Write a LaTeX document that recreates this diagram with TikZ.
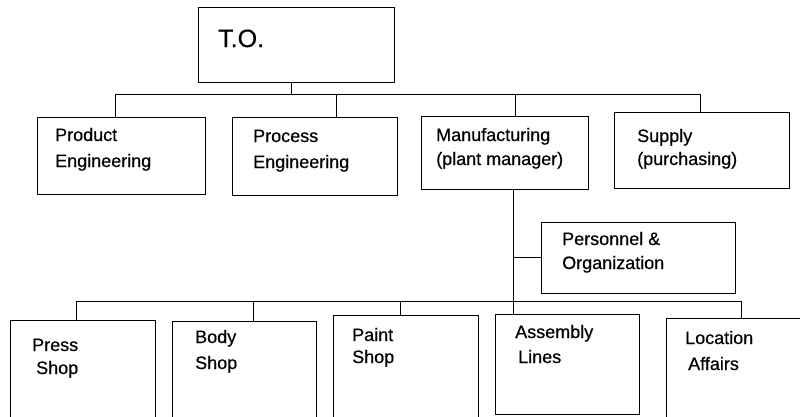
\documentclass[tikz,border=0pt]{standalone}
\usepackage{fontspec}
\setmainfont{Liberation Sans}
\newfontfamily\scanfont[FakeBold=0.5]{Liberation Sans}
\usetikzlibrary{fit}
\begin{document}
\begin{tikzpicture}[x=1pt,y=-1pt,
  boxnode/.style={draw=black,line width=0.9pt,inner sep=0pt,rectangle},
  conn/.style={draw=black,line width=0.9pt},
  lbl/.style={anchor=base west,inner sep=0pt,font=\scanfont\fontsize{18}{20}\selectfont},
  biglbl/.style={anchor=base west,inner sep=0pt,font=\scanfont\fontsize{25}{28}\selectfont}]
\useasboundingbox (0,0) rectangle (800,416);
\clip (0,0) rectangle (800,416);
% box corners
\coordinate (to1) at (198,7);   \coordinate (to2) at (394,82);
\coordinate (pe1) at (37,117);  \coordinate (pe2) at (205,194);
\coordinate (pr1) at (232,117); \coordinate (pr2) at (397,195);
\coordinate (mf1) at (421,116); \coordinate (mf2) at (588,189);
\coordinate (su1) at (614,112); \coordinate (su2) at (789,188);
\coordinate (po1) at (541,222); \coordinate (po2) at (735,293);
\coordinate (ps1) at (10,320);  \coordinate (ps2) at (155,430);
\coordinate (bs1) at (172,321); \coordinate (bs2) at (316,430);
\coordinate (pa1) at (333,315); \coordinate (pa2) at (478,430);
\coordinate (as1) at (495,314); \coordinate (as2) at (639,414);
\coordinate (lo1) at (666,318); \coordinate (lo2) at (815,430);
% boxes
\node[boxnode,fit=(to1)(to2)] (TO) {};
\node[boxnode,fit=(pe1)(pe2)] (PE) {};
\node[boxnode,fit=(pr1)(pr2)] (PR) {};
\node[boxnode,fit=(mf1)(mf2)] (MF) {};
\node[boxnode,fit=(su1)(su2)] (SU) {};
\node[boxnode,fit=(po1)(po2)] (PO) {};
\node[boxnode,fit=(ps1)(ps2)] (PS) {};
\node[boxnode,fit=(bs1)(bs2)] (BS) {};
\node[boxnode,fit=(pa1)(pa2)] (PA) {};
\node[boxnode,fit=(as1)(as2)] (AS) {};
\node[boxnode,fit=(lo1)(lo2)] (LO) {};
% labels
\node[biglbl] (tT) at (218,47) {T.O.};
\node[lbl] (tPE1) at (55,141) {Product};
\node[lbl] (tPE2) at (55,167) {Engineering};
\node[lbl] (tPR1) at (253,142) {Process};
\node[lbl] (tPR2) at (253,168) {Engineering};
\node[lbl] (tMF1) at (436,141) {Manufacturing};
\node[lbl] (tMF2) at (436,165) {(plant manager)};
\node[lbl] (tSU1) at (637,142) {Supply};
\node[lbl] (tSU2) at (637,165) {(purchasing)};
\node[lbl] (tPO1) at (562,245) {Personnel \&};
\node[lbl] (tPO2) at (562,269) {Organization};
\node[lbl] (tPS1) at (32,351) {Press};
\node[lbl] (tPS2) at (36,374) {Shop};
\node[lbl] (tBS1) at (195,343) {Body};
\node[lbl] (tBS2) at (195,369) {Shop};
\node[lbl] (tPA1) at (352,341) {Paint};
\node[lbl] (tPA2) at (352,363) {Shop};
\node[lbl] (tAS1) at (515,338) {Assembly};
\node[lbl] (tAS2) at (518,363) {Lines};
\node[lbl] (tLO1) at (685,344) {Location};
\node[lbl] (tLO2) at (688,370) {Affairs};
% connector x positions and bus levels
\coordinate (xa) at (291,94);  % T.O. stem
\coordinate (xpe) at (115,94);
\coordinate (xpr) at (336,94);
\coordinate (xmf) at (515,94);
\coordinate (xsu) at (700,94);
\coordinate (xst) at (513,301); % manufacturing stem
\coordinate (xps) at (76,301);
\coordinate (xbs) at (253,301);
\coordinate (xpa) at (400,301);
\coordinate (xlo) at (741,301);
% top tree
\draw[conn] (xa |- TO.south) -- (xa);
\draw[conn] (xpe |- PE.north) -- (xpe) -- (xsu) -- (xsu |- SU.north);
\draw[conn] (xpr) -- (xpr |- PR.north);
\draw[conn] (xmf) -- (xmf |- MF.north);
% manufacturing stem
\draw[conn] (xst |- MF.south) -- (xst |- AS.north);
\draw[conn] (xst |- PO.west) -- (PO.west);
% bottom tree
\draw[conn] (xps |- PS.north) -- (xps) -- (xlo) -- (xlo |- LO.north);
\draw[conn] (xbs) -- (xbs |- BS.north);
\draw[conn] (xpa) -- (xpa |- PA.north);
\end{tikzpicture}
\end{document}
